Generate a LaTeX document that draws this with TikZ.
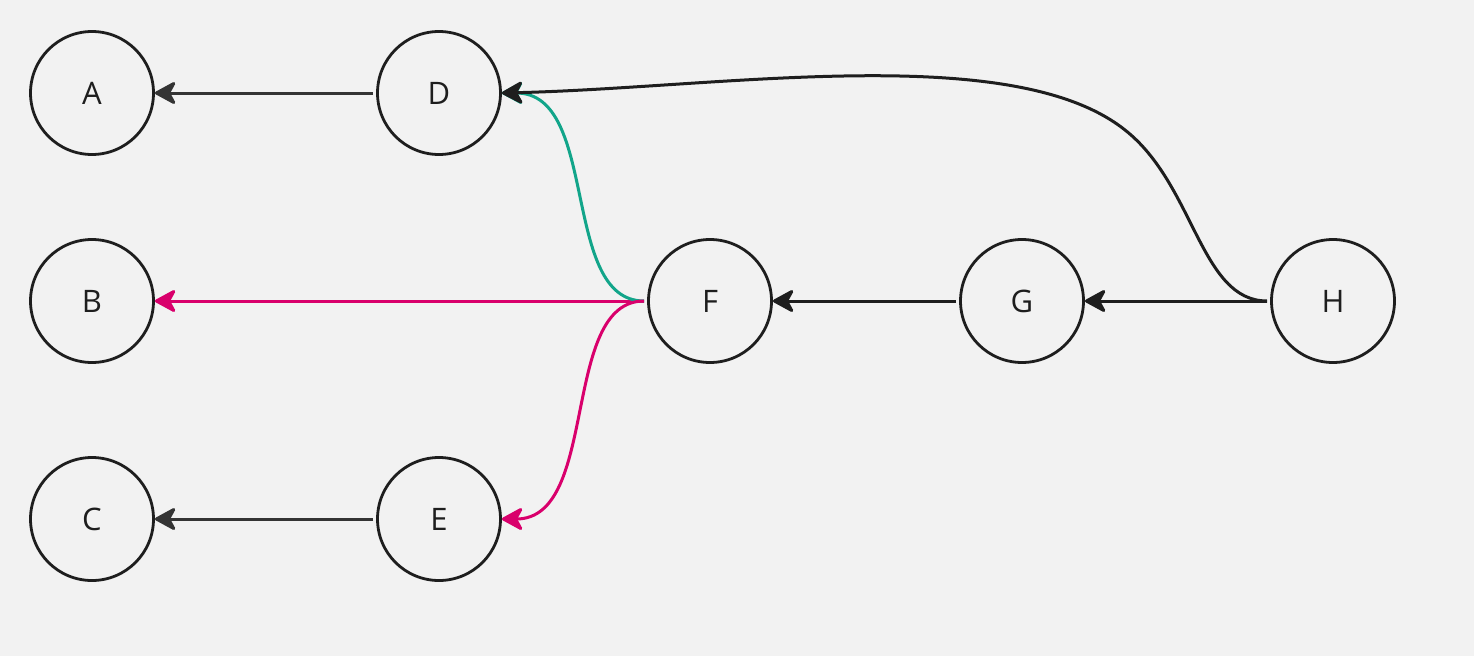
\documentclass[tikz,border=0pt]{standalone}
\usepackage{fontspec}
\setmainfont{Open Sans}
\usetikzlibrary{arrows.meta}
\definecolor{bg}{HTML}{F2F2F2}
\definecolor{ink}{HTML}{1E1E1E}
\definecolor{edgegray}{HTML}{343434}
\definecolor{teal}{HTML}{12A58A}
\definecolor{pink}{HTML}{D9006C}
\begin{document}
\begin{tikzpicture}[x=1pt,y=-1pt,
  vert/.style={circle,draw=ink,line width=2.8pt,minimum size=123pt,inner sep=0pt,
    font=\fontsize{31}{36}\selectfont,text=ink},
  conn/.style={line width=3pt,-{Stealth[length=24pt,width=26pt,inset=7pt,round]}},
]
\fill[bg] (0,0) rectangle (1474,656);
\useasboundingbox (0,0) rectangle (1474,656);
\node[vert] (A) at (92,93) {A};
\node[vert] (D) at (439,93) {D};
\node[vert] (B) at (92,301) {B};
\node[vert] (F) at (710,301) {F};
\node[vert] (G) at (1022,301) {G};
\node[vert] (H) at (1333,301) {H};
\node[vert] (C) at (92,519) {C};
\node[vert] (E) at (439,519) {E};
\coordinate (Dout) at ([xshift=-3pt]D.west);
\coordinate (Eout) at ([xshift=-3pt]E.west);
\coordinate (Fout) at ([xshift=-3pt]F.west);
\coordinate (Gout) at ([xshift=-3pt]G.west);
\coordinate (Hout) at ([xshift=-3pt]H.west);
\draw[conn,edgegray] (Dout) -- (A.east);
\draw[conn,edgegray] (Eout) -- (C.east);
\draw[conn,pink] (Fout) -- (B.east);
\draw[conn,teal] (Fout) .. controls (560,301) and (600,93) .. (D.east);
\draw[conn,pink] (Fout) .. controls (560,301) and (600,519) .. (E.east);
\draw[conn,ink] (Gout) -- (F.east);
\draw[conn,ink] (Hout) -- (G.east);
\draw[conn,ink] (Hout) .. controls (1200,301) and (1195,185) .. (1125,130)
  .. controls (1012,40) and (720,88) .. (D.east);
\end{tikzpicture}
\end{document}
